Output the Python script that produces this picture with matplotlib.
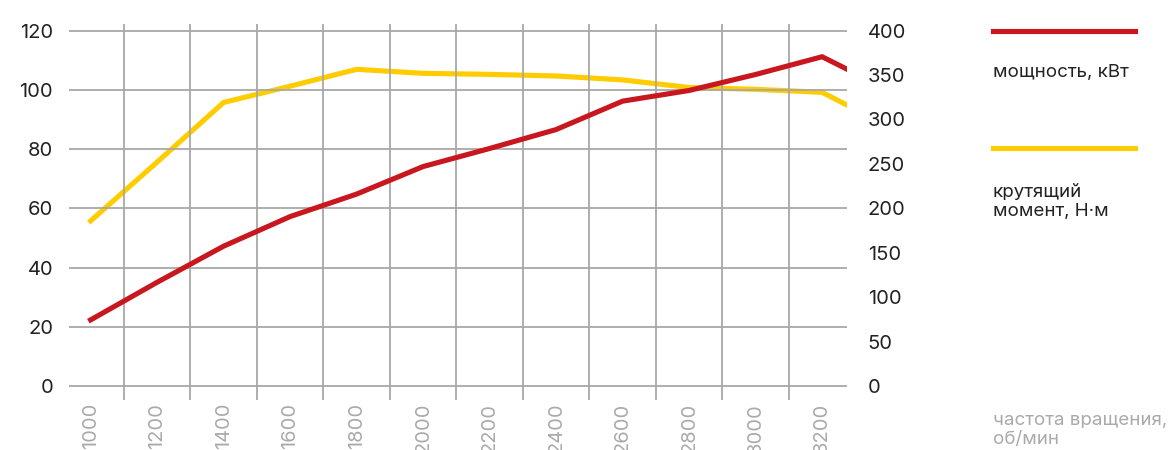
import matplotlib.pyplot as plt
from matplotlib.lines import Line2D

plt.rcParams['font.family'] = ['Inter', 'DejaVu Sans']

# engine speed, rpm
rpm = [1000, 1200, 1400, 1600, 1800, 2000, 2200, 2400, 2600, 2800, 3000, 3200, 3300]
# power, kW (left axis)
power = [22.3, 35.0, 47.2, 57.2, 64.8, 74.1, 80.2, 86.6, 96.2, 99.8, 105.2, 111.2, 105.6]
# torque, N·m (right axis)
torque = [185.8, 252.0, 319.2, 337.5, 356.5, 352.0, 350.8, 349.0, 344.6, 336.0, 334.0, 330.6, 311.5]

x_labels = [str(v) for v in rpm[:-1]]
x_grid = [1100 + 200 * i for i in range(11)]

RED = '#c8171e'
YELLOW = '#ffcc00'
GRID = '#a8a8a8'

fig = plt.figure(figsize=(11.73, 4.5), dpi=100)
ax = fig.add_axes([69 / 1173, 1 - 400 / 450, 778 / 1173, 376 / 450])
ax2 = ax.twinx()

ax.set_xlim(935, 3275)
ax.set_ylim(-4.76, 122.26)
ax2.set_ylim(-4.76 * 10 / 3, 122.26 * 10 / 3)

ax.set_yticks([0, 20, 40, 60, 80, 100, 120])
ax2.set_yticks([0, 50, 100, 150, 200, 250, 300, 350, 400])
ax.set_xticks(rpm[:-1])
ax.set_xticklabels(x_labels, rotation=90, va='top', ha='center')
ax.set_xticks(x_grid, minor=True)

ax.grid(False)
ax.grid(axis='y', which='major', color=GRID, lw=1.3)
ax.grid(axis='x', which='minor', color=GRID, lw=1.3)
ax.set_axisbelow(True)

for a in (ax, ax2):
    for s in a.spines.values():
        s.set_visible(False)

ax.tick_params(axis='y', length=0, pad=11.5, labelsize=14.5, labelcolor='#222222')
ax2.tick_params(axis='y', length=0, pad=15, labelsize=14.5, labelcolor='#222222')
ax.tick_params(axis='x', which='both', length=0, pad=2, labelsize=14.5, labelcolor='#aaaaaa')

ax.plot(rpm, power, color=RED, lw=3.7, solid_joinstyle='miter', zorder=3)
ax2.plot(rpm, torque, color=YELLOW, lw=3.7, solid_joinstyle='miter', zorder=2)
ax.set_zorder(ax2.get_zorder() + 1)
ax.patch.set_visible(False)

# legend on the right
lx0, lx1 = 993 / 1173, 1135 / 1173
fig.add_artist(Line2D([lx0, lx1], [1 - 30.7 / 450] * 2, color=RED, lw=3.7))
fig.add_artist(Line2D([lx0, lx1], [1 - 148.3 / 450] * 2, color=YELLOW, lw=3.7))
fig.text(lx0, 1 - 73 / 450, 'мощность, кВт', fontsize=13.5, color='#222222', va='center')
fig.text(lx0, 1 - 202 / 450, 'крутящий\nмомент, Н·м', fontsize=13.5, color='#222222',
         va='center', linespacing=1.08)
fig.text(lx0, 1 - 430 / 450, 'частота вращения,\nоб/мин', fontsize=13.5, color='#aaaaaa',
         va='center', linespacing=1.08)

plt.savefig('out.png', dpi=100)
